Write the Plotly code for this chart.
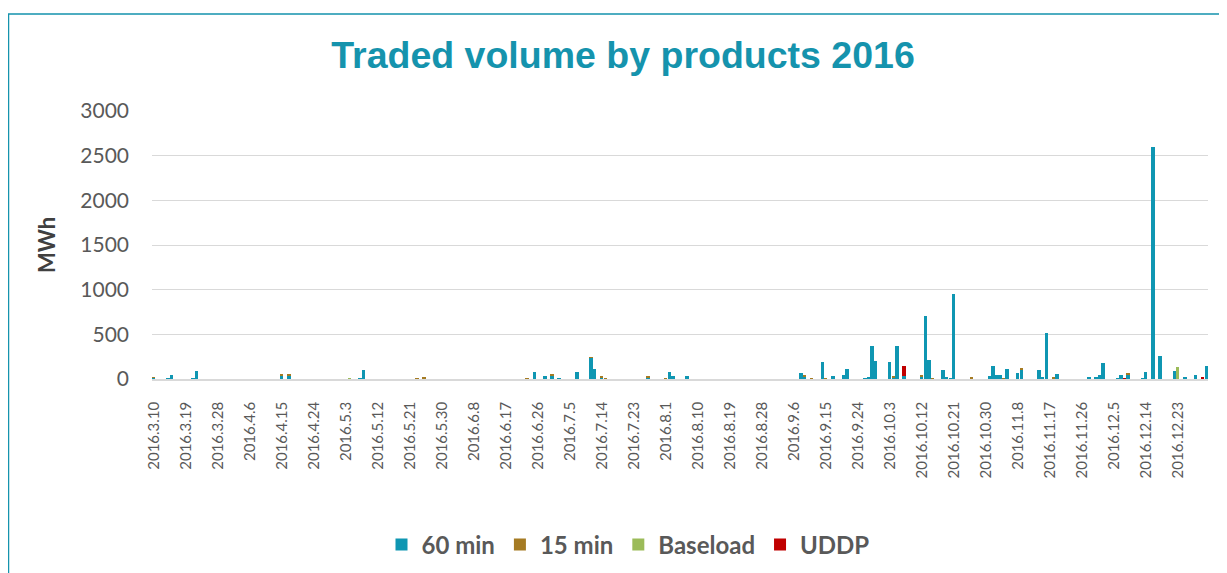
import plotly.graph_objects as go
import pandas as pd

# ---- data (MWh per day) ----
start_date = "2016-03-10"
end_date = "2016-12-31"

min60 = {
    "3.10": 12, "3.14": 10, "3.15": 48, "3.21": 10, "3.22": 95,
    "4.15": 42, "4.17": 42, "5.4": 3, "5.7": 10, "5.8": 105,
    "6.25": 75, "6.28": 38, "6.30": 43, "7.2": 8, "7.7": 82,
    "7.11": 236, "7.12": 112, "7.14": 18, "7.27": 12, "8.2": 82,
    "8.3": 38, "8.7": 38, "9.8": 67, "9.9": 32, "9.14": 186,
    "9.15": 3, "9.17": 38, "9.20": 45, "9.21": 112, "9.26": 5,
    "9.27": 12, "9.28": 373, "9.29": 205, "10.3": 187, "10.4": 20,
    "10.5": 366, "10.7": 30, "10.12": 30, "10.13": 709, "10.14": 216,
    "10.18": 105, "10.19": 20, "10.20": 4, "10.21": 955, "10.26": 8,
    "10.31": 30, "11.1": 150, "11.2": 48, "11.3": 48, "11.5": 108,
    "11.8": 63, "11.9": 107, "11.14": 100, "11.15": 26, "11.16": 515,
    "11.18": 10, "11.19": 56, "11.28": 18, "11.30": 18, "12.1": 48,
    "12.2": 179, "12.6": 10, "12.7": 41, "12.9": 55, "12.13": 10,
    "12.14": 75, "12.16": 2592, "12.18": 258, "12.22": 93, "12.25": 26,
    "12.28": 41, "12.31": 150,
}
min15 = {
    "3.10": 10, "4.15": 5, "4.17": 6, "5.4": 4, "5.23": 7, "5.25": 28,
    "6.23": 5, "6.30": 5, "7.11": 4, "7.14": 8, "7.15": 5, "7.27": 12,
    "8.1": 5, "9.9": 8, "9.11": 8, "9.15": 4, "10.4": 8, "10.12": 8,
    "10.15": 5, "10.26": 7, "11.4": 5, "11.9": 5, "11.18": 8, "12.9": 5,
}
baseload = {"5.4": 4, "12.23": 135}
uddp = {"10.7": 110, "12.8": 10, "12.30": 22}

series_names = ["60 min", "15 min", "Baseload", "UDDP"]
series_colors = ["#0F96B2", "#A57B23", "#9BBB59", "#C00000"]

# ---- categories ----
dates = pd.date_range(start_date, end_date, freq="D")
cats = [f"{d.year}.{d.month}.{d.day}" for d in dates]
keys = [f"{d.month}.{d.day}" for d in dates]
tick_labels = cats[::9]

fig = go.Figure()
for name, color, src in zip(series_names, series_colors, [min60, min15, baseload, uddp]):
    fig.add_trace(go.Bar(
        x=cats, y=[src.get(k, 0) for k in keys], name=f"<b>{name}</b>",
        marker=dict(color=color, line=dict(width=0)),
    ))

# the page body adds an 8px offset, so work in figure px = screen px - 8
OFF = 8
FW, FH = 1227 - OFF, 573 - OFF
x_left, x_right = 152 - OFF, 1208 - OFF
y_top, y_bot = 111 - OFF, 379 - OFF
W, H = x_right - x_left, y_bot - y_top


def px_x(p):
    return (p - OFF - x_left) / W


def px_y(p):
    return (y_bot - (p - OFF)) / H


fig.update_layout(
    width=FW, height=FH,
    margin=dict(l=x_left, r=FW - x_right, t=y_top, b=FH - y_bot, autoexpand=False),
    paper_bgcolor="white", plot_bgcolor="white",
    barmode="stack", bargap=0.04,
    font=dict(family="Lato", color="#595959"),
    title=dict(
        text="<b>Traded volume by products 2016</b>",
        font=dict(family="Liberation Sans", size=37.5, color="#1593AD"),
        x=(623 - OFF) / FW, xanchor="center", xref="container",
        y=1 - (55 - OFF) / FH, yanchor="middle", yref="container",
    ),
    xaxis=dict(
        type="category", categoryorder="array", categoryarray=cats,
        tickmode="array", tickvals=tick_labels, ticktext=tick_labels,
        tickangle=-90, tickfont=dict(size=15, color="#595959"),
        showgrid=False, showline=True, linecolor="#D9D9D9", linewidth=1.5,
        ticks="", ticklabelstandoff=15, automargin=False,
    ),
    yaxis=dict(
        range=[0, 3000], tickvals=[0, 500, 1000, 1500, 2000, 2500, 3000],
        tickfont=dict(size=21, color="#595959"),
        showgrid=True, gridcolor="#D9D9D9", gridwidth=1,
        zeroline=False, ticks="", ticklabelstandoff=22, automargin=False,
        title=dict(text="<b>MWh</b>", font=dict(size=22, color="#404040"), standoff=18),
    ),
    legend=dict(
        orientation="h", x=px_x(628), xanchor="center",
        yref="container", y=1 - (545 - OFF) / FH, yanchor="middle",
        font=dict(size=24, color="#595959", family="Lato"),
        traceorder="normal",
    ),
    showlegend=True,
    shapes=[dict(
        type="rect", xref="paper", yref="paper",
        x0=px_x(8.5), x1=px_x(1221), y0=px_y(600), y1=px_y(14),
        line=dict(color="#1593AD", width=1.5), fillcolor="rgba(0,0,0,0)",
        layer="below",
    )],
)

fig.write_html("out.html")
